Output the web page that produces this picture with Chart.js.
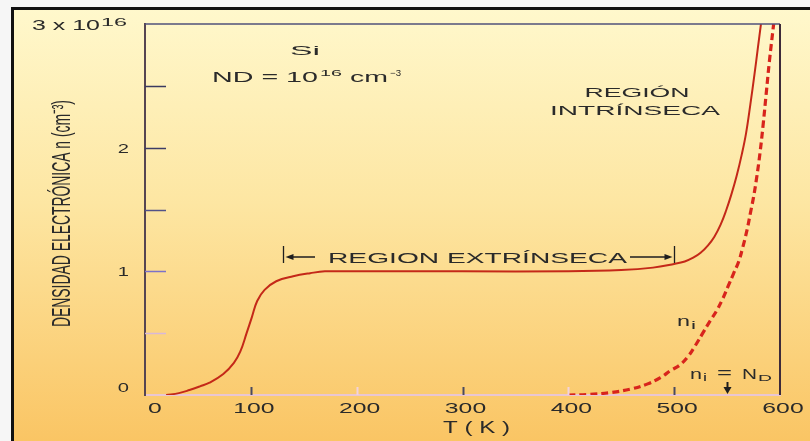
<!DOCTYPE html>
<html>
<head>
<meta charset="utf-8">
<script src="https://cdn.jsdelivr.net/npm/chart.js@4.4.1/dist/chart.umd.min.js"></script>
<style>
  html, body { margin: 0; padding: 0; background: #f6f6f6; }
  #wrap { width: 810px; height: 441px; }
</style>
</head>
<body>
<div id="wrap"><canvas id="chart" width="810" height="441"></canvas></div>
<script>
// Si, ND = 1e16 cm^-3 : electron density n vs temperature T

// total electron density (solid curve)
const tempTotal = [20, 32, 42, 52, 61, 74, 84, 90, 96, 101, 106, 113, 124, 140, 156, 170, 200, 300, 400, 450, 480, 500, 510, 518, 525, 532, 538, 544, 549, 554, 559, 564, 568, 572, 576, 579, 582];
const densTotal = [0, 0.015, 0.04, 0.07, 0.1, 0.17, 0.26, 0.35, 0.5, 0.63, 0.76, 0.85, 0.92, 0.96, 0.985, 1.0, 1.0, 1.0, 1.0, 1.01, 1.03, 1.06, 1.08, 1.11, 1.15, 1.21, 1.28, 1.38, 1.49, 1.62, 1.77, 1.95, 2.12, 2.35, 2.6, 2.8, 3.0];

// intrinsic density ni (dashed curve)
const tempIntrinsic = [400, 420, 440, 460, 475, 487, 497, 505, 513, 520, 527, 534, 540, 546, 551, 556, 561, 565, 569, 572, 575, 578, 581, 584, 587, 590, 594];
const densIntrinsic = [0, 0.005, 0.02, 0.05, 0.09, 0.14, 0.2, 0.24, 0.31, 0.4, 0.5, 0.6, 0.68, 0.78, 0.88, 0.98, 1.08, 1.2, 1.34, 1.47, 1.6, 1.76, 1.95, 2.18, 2.44, 2.7, 3.0];

const xTickLabels = ['0', '100', '200', '300', '400', '500', '600'];
const yTickLabels = ['0', '1', '2'];
const yTopLabel = '3 x 10';
const yTopExponent = '16';

const extrinsicRange = [130, 500];   // K, bracket of the extrinsic region
const niEqualsNdTemp = 550;          // K

const FONT = '"Liberation Sans", Arial, sans-serif';
const INK = '#2a2a2a';

function drawText(ctx, str, x, y, size, opt) {
    opt = opt || {};
    ctx.save();
    ctx.font = size + 'px ' + FONT;
    const w = ctx.measureText(str).width;
    const sx = opt.width ? opt.width / w : (opt.sx || 1.6);
    ctx.translate(x, y);
    ctx.scale(sx, 1);
    ctx.fillStyle = opt.color || INK;
    ctx.textAlign = opt.align || 'left';
    ctx.textBaseline = opt.baseline || 'alphabetic';
    ctx.fillText(str, 0, 0);
    ctx.restore();
    return w * sx;
}

function arrowHead(ctx, tipX, tipY, dirX, dirY, len, half) {
    const bx = tipX - dirX * len, by = tipY - dirY * len;
    ctx.beginPath();
    ctx.moveTo(tipX, tipY);
    ctx.lineTo(bx - dirY * half, by + dirX * half);
    ctx.lineTo(bx + dirY * half, by - dirX * half);
    ctx.closePath();
    ctx.fill();
}

const decor = {
    id: 'decor',
    beforeDraw(chart) {
        const ctx = chart.ctx;
        const W = chart.width, H = chart.height;
        ctx.save();
        ctx.fillStyle = '#f6f6f6';
        ctx.fillRect(0, 0, W, H);
        // yellow panel
        const g = ctx.createLinearGradient(0, 9, 0, H);
        g.addColorStop(0, '#fff8cc');
        g.addColorStop(0.45, '#fde6a2');
        g.addColorStop(1, '#fac564');
        ctx.fillStyle = g;
        ctx.fillRect(12, 9, W - 12, H - 9);
        ctx.strokeStyle = '#111';
        ctx.lineWidth = 3;
        ctx.beginPath();
        ctx.moveTo(12.5, H);
        ctx.lineTo(12.5, 8.5);
        ctx.lineTo(W, 8.5);
        ctx.stroke();
        ctx.restore();
    },
    afterDraw(chart) {
        const ctx = chart.ctx;
        const a = chart.chartArea;
        const xs = chart.scales.x, ys = chart.scales.y;
        ctx.save();
        // frame top and right
        ctx.lineWidth = 1.5;
        ctx.strokeStyle = '#51517a';
        ctx.beginPath();
        ctx.moveTo(a.left, a.top);
        ctx.lineTo(a.right, a.top);
        ctx.stroke();
        ctx.lineWidth = 2;
        ctx.strokeStyle = '#3d2a3a';
        ctx.beginPath();
        ctx.moveTo(a.right, a.top);
        ctx.lineTo(a.right, a.bottom);
        ctx.stroke();

        // inward y tick marks
        const yTickColors = { 0.5: '#d8b8d8', 1: '#7c72c8', 1.5: '#525288', 2: '#3c3c66', 2.5: '#3a3a60' };
        ys.ticks.forEach(t => {
            if (t.value <= 0 || t.value >= 3) return;
            const py = Math.round(ys.getPixelForValue(t.value)) + 0.5;
            ctx.strokeStyle = yTickColors[t.value] || '#444';
            ctx.lineWidth = 1.5;
            ctx.beginPath();
            ctx.moveTo(a.left, py);
            ctx.lineTo(a.left + 21, py);
            ctx.stroke();
        });
        // inward x tick marks
        xs.ticks.forEach(t => {
            if (t.value <= 0 || t.value >= 600) return;
            const px = Math.round(xs.getPixelForValue(t.value)) + 0.5;
            ctx.strokeStyle = (t.value === 200 || t.value === 400) ? '#f2d2dc' : '#4a4a60';
            ctx.lineWidth = 2;
            ctx.beginPath();
            ctx.moveTo(px, a.bottom);
            ctx.lineTo(px, a.bottom - 8);
            ctx.stroke();
        });

        // x tick labels
        xs.ticks.forEach((t, i) => {
            const px = xs.getPixelForValue(t.value);
            if (i === 0) drawText(ctx, xTickLabels[i], px + 3, 413, 15, { sx: 1.65 });
            else drawText(ctx, xTickLabels[i], px + 3, 413, 15, { sx: 1.65, align: 'center' });
        });
        // y tick labels
        yTickLabels.forEach((lab, i) => {
            let py = ys.getPixelForValue(i);
            if (i === 0) py -= 8;
            drawText(ctx, lab, 129, py + 5, 13, { sx: 1.55, align: 'right' });
        });
        const w3 = drawText(ctx, yTopLabel, 32, 30, 14, { width: 68 });
        drawText(ctx, yTopExponent, 32 + w3 + 1, 26, 10, { width: 26 });

        // axis titles
        drawText(ctx, 'T ( K )', 443, 433, 16, { width: 67 });
        ctx.save();
        ctx.translate(63, 213.5);
        ctx.rotate(-Math.PI / 2);
        ctx.scale(1, 1.75);
        ctx.font = '15px ' + FONT;
        ctx.fillStyle = INK;
        ctx.textAlign = 'center';
        ctx.textBaseline = 'middle';
        ctx.fillText('DENSIDAD ELECTRÓNICA n (cm⁻³)', 0, 0, 227);
        ctx.restore();

        // annotations
        drawText(ctx, 'Si', 290, 55, 13, { width: 30 });
        drawText(ctx, 'ND = 10', 212, 82, 14, { width: 106 });
        drawText(ctx, '16', 320, 76, 9, { width: 22 });
        drawText(ctx, 'cm', 350, 82, 14, { width: 38 });
        drawText(ctx, '−3', 390, 76, 9, { width: 11 });

        drawText(ctx, 'REGIÓN', 637, 97, 13.5, { width: 105, align: 'center' });
        drawText(ctx, 'INTRÍNSECA', 635, 115, 13.5, { width: 170, align: 'center' });

        drawText(ctx, 'REGION EXTRÍNSECA', 328, 263, 15, { width: 299 });

        drawText(ctx, 'n', 677, 326, 15, { width: 13 });
        drawText(ctx, 'i', 691, 329, 10, { width: 5 });

        drawText(ctx, 'n', 690, 379, 15, { width: 12 });
        drawText(ctx, 'i', 703, 381, 10, { width: 4 });
        drawText(ctx, '=', 717, 378, 15, { width: 15 });
        drawText(ctx, 'N', 742, 379, 14, { width: 15 });
        drawText(ctx, 'D', 758, 381, 9, { width: 14 });

        // extrinsic region bracket
        ctx.strokeStyle = '#1e1e1e';
        ctx.fillStyle = '#1e1e1e';
        ctx.lineWidth = 1.3;
        const bx0 = Math.round(xs.getPixelForValue(extrinsicRange[0])) + 0.5;
        const bx1 = Math.round(xs.getPixelForValue(extrinsicRange[1])) + 0.5;
        const by = ys.getPixelForValue(1.116);
        const byTop = ys.getPixelForValue(1.205), byBot = ys.getPixelForValue(1.067);
        ctx.beginPath();
        ctx.moveTo(bx0, byTop); ctx.lineTo(bx0, byBot);
        ctx.moveTo(bx1, byTop); ctx.lineTo(bx1, byBot);
        ctx.moveTo(bx0 + 8, by); ctx.lineTo(315, by);
        ctx.moveTo(630, by); ctx.lineTo(bx1 - 8, by);
        ctx.stroke();
        arrowHead(ctx, bx0 + 2, by, -1, 0, 8, 3);
        arrowHead(ctx, bx1 - 2, by, 1, 0, 8, 3);

        // ni = ND arrow
        const ax = Math.round(xs.getPixelForValue(niEqualsNdTemp)) + 0.5;
        ctx.lineWidth = 2;
        ctx.beginPath();
        ctx.moveTo(ax, ys.getPixelForValue(0.105));
        ctx.lineTo(ax, a.bottom - 5);
        ctx.stroke();
        arrowHead(ctx, ax, a.bottom - 1, 0, 1, 7, 4);
        ctx.restore();
    }
};

new Chart(document.getElementById('chart'), {
    type: 'line',
    data: {
        datasets: [
            {
                label: 'n',
                data: tempTotal.map((t, i) => ({ x: t, y: densTotal[i] })),
                borderColor: '#c42818',
                borderWidth: 2,
                pointRadius: 0,
                tension: 0.4,
                fill: false
            },
            {
                label: 'ni',
                data: tempIntrinsic.map((t, i) => ({ x: t, y: densIntrinsic[i] })),
                borderColor: '#d8241c',
                borderWidth: 3.2,
                borderDash: [7, 4],
                pointRadius: 0,
                tension: 0.4,
                fill: false
            }
        ]
    },
    options: {
        responsive: false,
        animation: false,
        devicePixelRatio: 1,
        layout: { padding: { left: 145, top: 24, right: 30, bottom: 46 } },
        plugins: { legend: { display: false }, tooltip: { enabled: false } },
        scales: {
            x: {
                type: 'linear',
                min: 0,
                max: 600,
                ticks: { display: false, stepSize: 100 },
                grid: { display: false },
                border: { display: true, color: '#e9c6d2', width: 2 },
                afterFit(s) { s.height = 0; }
            },
            y: {
                type: 'linear',
                min: 0,
                max: 3,
                ticks: { display: false, stepSize: 0.5 },
                grid: { display: false },
                border: { display: true, color: '#564552', width: 2 },
                afterFit(s) { s.width = 0; }
            }
        }
    },
    plugins: [decor]
});
</script>
</body>
</html>
